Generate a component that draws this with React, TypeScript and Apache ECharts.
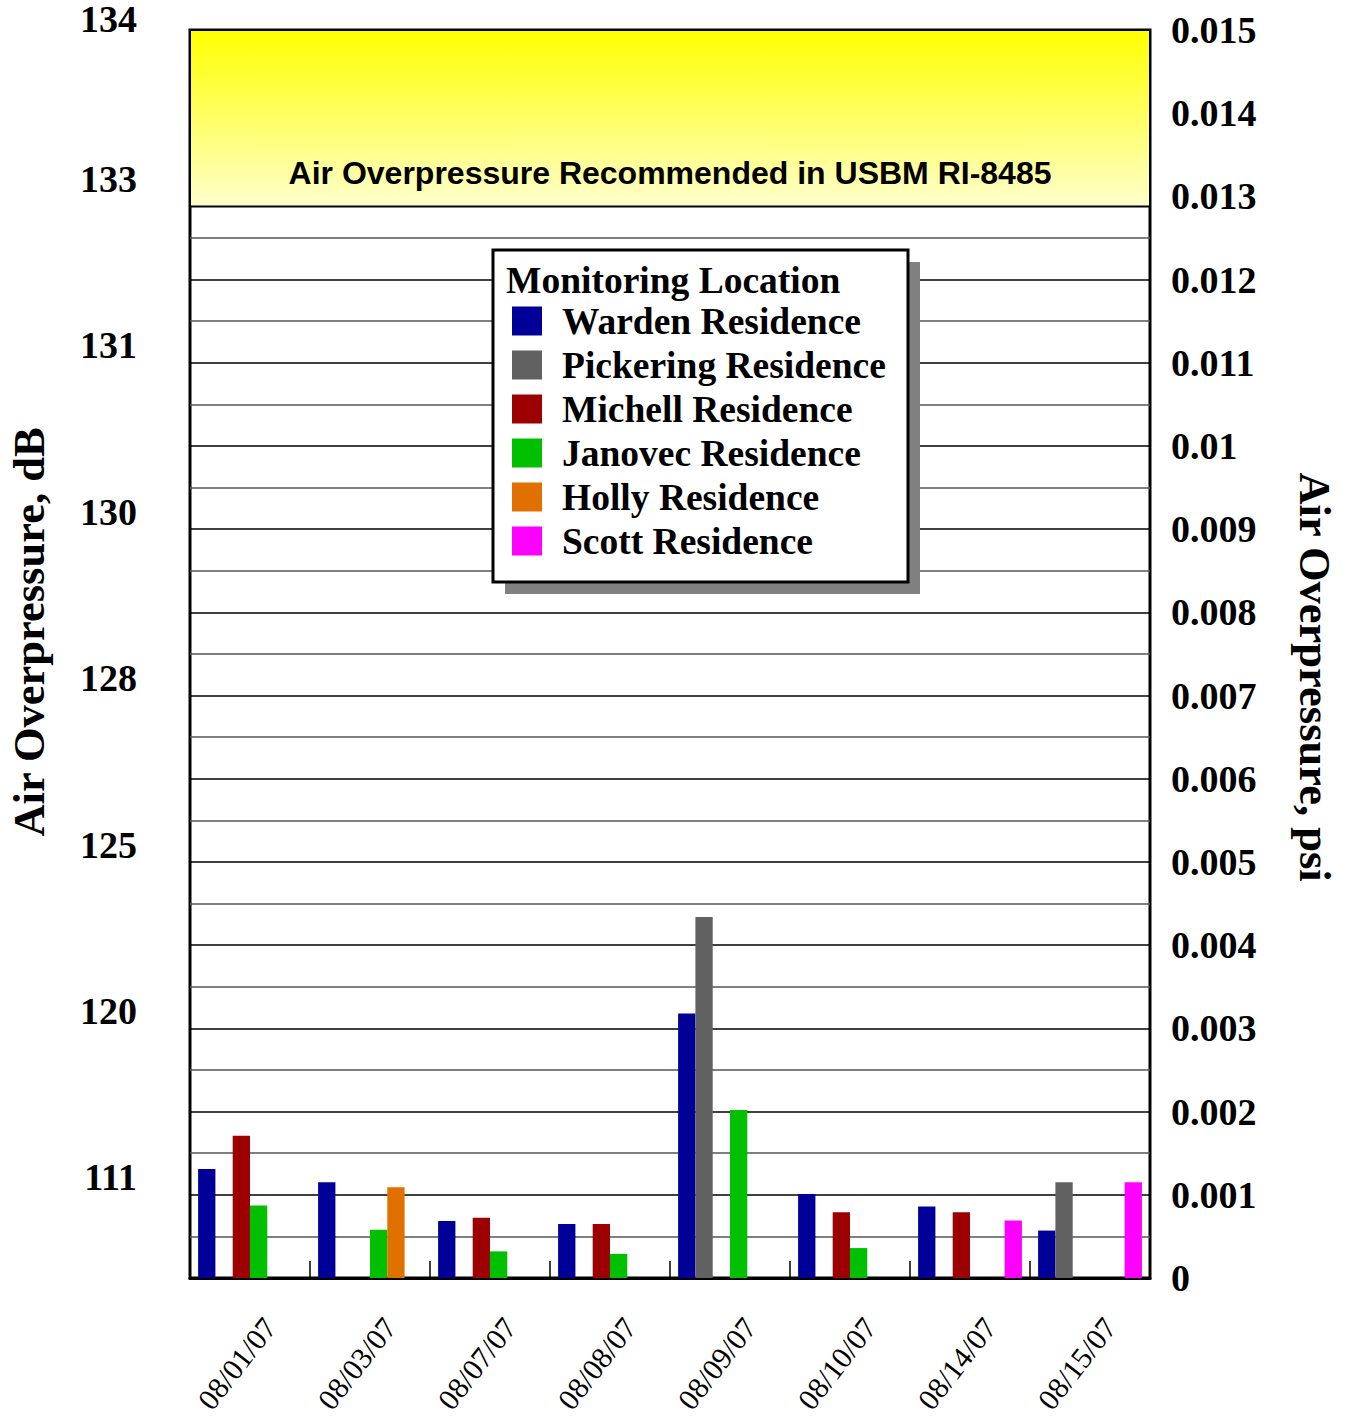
import React, { useEffect, useRef } from 'react';
import * as echarts from 'echarts';

const categories = ['08/01/07', '08/03/07', '08/07/07', '08/08/07', '08/09/07', '08/10/07', '08/14/07', '08/15/07'];
const seriesNames = ['Warden Residence', 'Pickering Residence', 'Michell Residence', 'Janovec Residence', 'Holly Residence', 'Scott Residence'];
const seriesColors = ['#000099', '#616161', '#9c0000', '#00c000', '#e07000', '#ff00ff'];

const wardenValues = [0.00131, 0.00115, 0.000685, 0.00065, 0.00318, 0.00101, 0.00086, 0.00057];
const pickeringValues = [null, null, null, null, 0.00434, null, null, 0.00115];
const michellValues = [0.00171, null, 0.000725, 0.00065, null, 0.00079, 0.00079, null];
const janovecValues = [0.00087, 0.00058, 0.00032, 0.00029, 0.00202, 0.00036, null, null];
const hollyValues = [null, 0.00109, null, null, null, null, null, null];
const scottValues = [null, null, null, null, null, null, 0.00069, 0.00115];

const dbTickPsi = [0.001, 0.003, 0.005, 0.007, 0.009, 0.011, 0.013, 0.015];
const dbLabels = ['111', '120', '125', '128', '130', '131', '133', '134'];

const thresholdPsi = 0.01288;
const bandLabel = 'Air Overpressure Recommended in USBM RI-8485';
const legendTitle = 'Monitoring Location';
const leftTitle = 'Air Overpressure, dB';
const rightTitle = 'Air Overpressure, psi';

export default function App() {
  const ref = useRef<HTMLDivElement>(null);
  useEffect(() => {
    document.body.style.margin = '0';
    const chart = echarts.init(ref.current as HTMLDivElement, null, { renderer: 'svg' });
    const serif = '"Liberation Serif", "Times New Roman", serif';
    const sans = '"Liberation Sans", Arial, sans-serif';
    const allValues = [wardenValues, pickeringValues, michellValues, janovecValues, hollyValues, scottValues];

    const series: any[] = allValues.map((vals, i) => ({
      name: seriesNames[i],
      type: 'bar',
      yAxisIndex: 1,
      data: vals.map((v) => (v === null ? '-' : v)),
      barGap: '0%',
      barCategoryGap: '13.5%',
      itemStyle: { color: seriesColors[i] },
      silent: true,
    }));
    series[0].markArea = {
      silent: true,
      itemStyle: {
        color: {
          type: 'linear', x: 0, y: 0, x2: 0, y2: 1,
          colorStops: [
            { offset: 0, color: '#ffff00' },
            { offset: 1, color: '#ffffcc' },
          ],
        },
        borderColor: '#000',
        borderWidth: 2,
      },
      label: {
        show: true,
        position: 'insideBottom',
        distance: 18,
        color: '#000',
        fontFamily: sans,
        fontWeight: 'bold',
        fontSize: 32,
      },
      data: [[{ name: bandLabel, yAxis: thresholdPsi }, { yAxis: 0.015 }]],
    };

    const dbRichBase = { fontFamily: serif, fontWeight: 'bold', fontSize: 38, color: '#000' };

    const option: any = {
      animation: false,
      grid: {
        left: 190, top: 30, width: 960, height: 1248,
        outerBoundsMode: 'none', containLabel: false,
        show: true, borderColor: '#000', borderWidth: 3, backgroundColor: 'transparent',
      },
      legend: {
        data: seriesNames,
        orient: 'vertical',
        left: 512,
        top: 299,
        padding: 0,
        itemWidth: 30,
        itemHeight: 29,
        itemGap: 0,
        icon: 'rect',
        selectedMode: false,
        z: 20,
        textStyle: {
          fontFamily: serif, fontWeight: 'bold', fontSize: 37.5, color: '#000',
          lineHeight: 44, padding: [0, 0, 0, 15],
        },
      },
      xAxis: {
        type: 'category',
        data: categories,
        axisLine: { show: true, lineStyle: { color: '#000', width: 3 } },
        axisTick: { show: true, inside: true, length: 17, interval: 0, lineStyle: { color: '#000', width: 1.5 } },
        axisLabel: {
          interval: 0, rotate: 52, fontFamily: serif, fontSize: 30, color: '#000',
          margin: 28, verticalAlign: 'top', padding: [10, 0, 0, 0],
        },
        splitLine: { show: false },
      },
      yAxis: [
        {
          type: 'value', position: 'left', min: 0, max: 0.015, interval: 0.001,
          axisLine: { show: false }, axisTick: { show: false }, splitLine: { show: false },
          axisLabel: {
            margin: 53, fontFamily: serif, fontWeight: 'bold', fontSize: 38, color: '#000',
            verticalAlign: 'bottom',
            formatter: (v: number) => {
              const i = dbTickPsi.findIndex((p) => Math.abs(p - v) < 1e-7);
              if (i < 0) return '';
              return i === dbTickPsi.length - 1 ? `{top|${dbLabels[i]}}` : `{mid|${dbLabels[i]}}`;
            },
            rich: {
              top: { ...dbRichBase, lineHeight: 22 },
              mid: { ...dbRichBase, lineHeight: 35 },
            },
          },
        },
        {
          type: 'value', position: 'right', min: 0, max: 0.015, interval: 0.001,
          axisLine: { show: false }, axisTick: { show: false },
          splitLine: { show: true, lineStyle: { color: '#000', width: 1.5 } },
          minorTick: { show: false, splitNumber: 2 },
          minorSplitLine: { show: true, lineStyle: { color: '#555', width: 1.5 } },
          axisLabel: {
            margin: 21, fontFamily: serif, fontWeight: 'bold', fontSize: 38, color: '#000',
            formatter: (v: number) => String(parseFloat(v.toFixed(3))),
          },
        },
      ],
      graphic: [
        { type: 'rect', z: 5, shape: { x: 505, y: 262, width: 415, height: 332 }, style: { fill: '#808080' } },
        { type: 'rect', z: 6, shape: { x: 493, y: 250, width: 415, height: 332 }, style: { fill: '#fff', stroke: '#000', lineWidth: 3 } },
        {
          type: 'text', z: 7, x: 506, y: 280,
          style: { text: legendTitle, fontFamily: serif, fontWeight: 'bold', fontSize: 37.5, fill: '#000', align: 'left', verticalAlign: 'middle' },
        },
        {
          type: 'text', z: 7, x: 29, y: 632, rotation: Math.PI / 2,
          style: { text: leftTitle, fontFamily: serif, fontWeight: 'bold', fontSize: 44.5, fill: '#000', align: 'center', verticalAlign: 'middle' },
        },
        {
          type: 'text', z: 7, x: 1315, y: 677, rotation: -Math.PI / 2,
          style: { text: rightTitle, fontFamily: serif, fontWeight: 'bold', fontSize: 44.5, fill: '#000', align: 'center', verticalAlign: 'middle' },
        },
      ],
      series,
    };
    chart.setOption(option);
    return () => chart.dispose();
  }, []);
  return <div ref={ref} style={{ width: 1346, height: 1416 }} />;
}
